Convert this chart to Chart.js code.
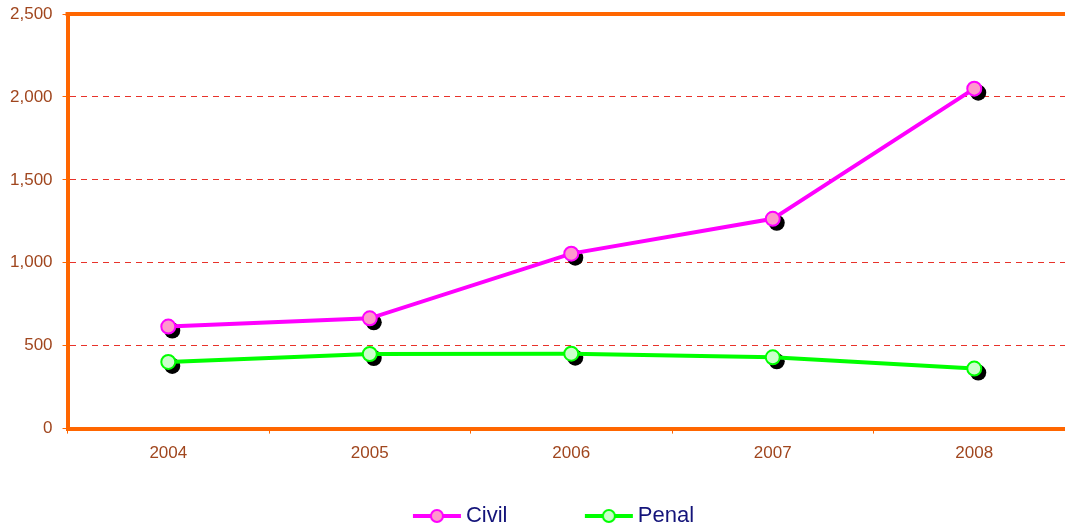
<!DOCTYPE html>
<html>
<head>
	<title>Civil / Penal</title>
	<script src="https://cdn.jsdelivr.net/npm/chart.js"></script>
	<style>
		html, body { margin: 0; padding: 0; background: #fff; }
		#wrap { width: 1065px; height: 527px; }
	</style>
</head>
<body>
	<div id="wrap"><canvas id="myChart" width="1065" height="527"></canvas></div>
	<script>
		// data
		var years = ['2004', '2005', '2006', '2007', '2008'];
		var civil = [615, 665, 1055, 1265, 2050];
		var penal = [402, 450, 452, 430, 362];
		var yTicks = [0, 500, 1000, 1500, 2000, 2500];

		var orange = '#ff6600';
		var brown = '#a0461e';

		// little line + circle icon for the legend
		function legendIcon(line, fill) {
			var c = document.createElement('canvas');
			c.width = 50; c.height = 18;
			var g = c.getContext('2d');
			g.strokeStyle = line; g.lineWidth = 4;
			g.beginPath(); g.moveTo(1, 9); g.lineTo(49, 9); g.stroke();
			g.beginPath(); g.arc(25, 9, 6, 0, Math.PI * 2);
			g.fillStyle = fill; g.fill();
			g.lineWidth = 2; g.stroke();
			return c;
		}

		// black drop shadow under every marker, plus the orange top edge
		var extras = {
			id: 'extras',
			afterLayout: function(chart) {
				// the original plot runs a little past the right edge of the image
				var x = chart.scales.x;
				x.right += 10;
				x.width += 10;
				x.configure();
				chart.chartArea.right += 10;
				chart.chartArea.width += 10;
				// legend sits a bit right of centre in the original
				chart.legend.left += 24;
				chart.legend.right += 24;
			},
			beforeDatasetsDraw: function(chart) {
				var ctx = chart.ctx;
				ctx.save();
				ctx.fillStyle = '#000';
				chart.data.datasets.forEach(function(ds, i) {
					chart.getDatasetMeta(i).data.forEach(function(pt) {
						ctx.beginPath();
						ctx.arc(pt.x + 4, pt.y + 4, 8, 0, Math.PI * 2);
						ctx.fill();
					});
				});
				ctx.restore();
			},
			afterDraw: function(chart) {
				var ctx = chart.ctx;
				var y = chart.scales.y.getPixelForValue(2500);
				ctx.save();
				ctx.strokeStyle = orange;
				ctx.lineWidth = 4;
				ctx.beginPath();
				ctx.moveTo(chart.chartArea.left - 2, y);
				ctx.lineTo(chart.width, y);
				ctx.stroke();
				ctx.restore();
			}
		};

		var ctx = document.getElementById('myChart').getContext('2d');
		var chart = new Chart(ctx, {
			type: 'line',
			data: {
				labels: years,
				datasets: [{
					label: 'Civil',
					data: civil,
					borderColor: '#ff00ff',
					backgroundColor: '#ff99cc',
					borderWidth: 4,
					pointRadius: 7,
					pointBorderWidth: 2,
					pointBorderColor: '#ff00ff',
					pointBackgroundColor: '#ff99cc',
					tension: 0
				}, {
					label: 'Penal',
					data: penal,
					borderColor: '#00ff00',
					backgroundColor: '#ccffcc',
					borderWidth: 4,
					pointRadius: 7,
					pointBorderWidth: 2,
					pointBorderColor: '#00ff00',
					pointBackgroundColor: '#ccffcc',
					tension: 0
				}]
			},
			options: {
				responsive: false,
				animation: false,
				layout: { autoPadding: false, padding: { top: 14, right: 0, left: 0, bottom: -10 } },
				plugins: {
					tooltip: { enabled: false },
					legend: {
						position: 'bottom',
						labels: {
							usePointStyle: true,
							pointStyleWidth: 36,
							padding: 10,
							color: '#14147a',
							font: { family: 'Liberation Sans, Arial, sans-serif', size: 22 },
							generateLabels: function(chart) {
								return chart.data.datasets.map(function(ds, i) {
									// trailing spaces keep the two entries apart like in the original
									var txt = i === 0 ? ds.label + '\u00a0'.repeat(12) : ds.label;
									return {
										text: txt,
										datasetIndex: i,
										fontColor: '#14147a',
										pointStyle: legendIcon(ds.borderColor, ds.pointBackgroundColor),
										lineWidth: 0
									};
								});
							}
						}
					}
				},
				scales: {
					x: {
						offset: true,
						grid: {
							offset: true,
							drawOnChartArea: false,
							drawTicks: true,
							tickLength: 5,
							tickColor: orange,
							tickWidth: 1
						},
						border: { color: orange, width: 4 },
						ticks: {
							color: brown,
							padding: 10,
							font: { family: 'Liberation Sans, Arial, sans-serif', size: 17 }
						},
						afterFit: function(scale) {
							scale.height += 21;
							scale.paddingRight = 0;
							scale.paddingLeft = 0;
						}
					},
					y: {
						min: 0,
						max: 2500,
						afterBuildTicks: function(scale) {
							scale.ticks = yTicks.map(function(v) { return { value: v }; });
						},
						afterFit: function(scale) {
							scale.paddingTop = 0;
							scale.paddingBottom = 0;
						},
						grid: {
							color: function(c) {
								var v = c.tick ? c.tick.value : 0;
								if (v === 0 || v === 2500) return 'rgba(0,0,0,0)';
								return '#e8322a';
							},
							lineWidth: 1,
							drawTicks: true,
							tickLength: 5,
							tickColor: orange
						},
						border: { color: orange, width: 4, dash: [6, 5] },
						ticks: {
							color: brown,
							padding: 10,
							font: { family: 'Liberation Sans, Arial, sans-serif', size: 17 },
							callback: function(v) { return v.toLocaleString('en-US'); }
						}
					}
				}
			},
			plugins: [extras]
		});
	</script>
</body>
</html>
